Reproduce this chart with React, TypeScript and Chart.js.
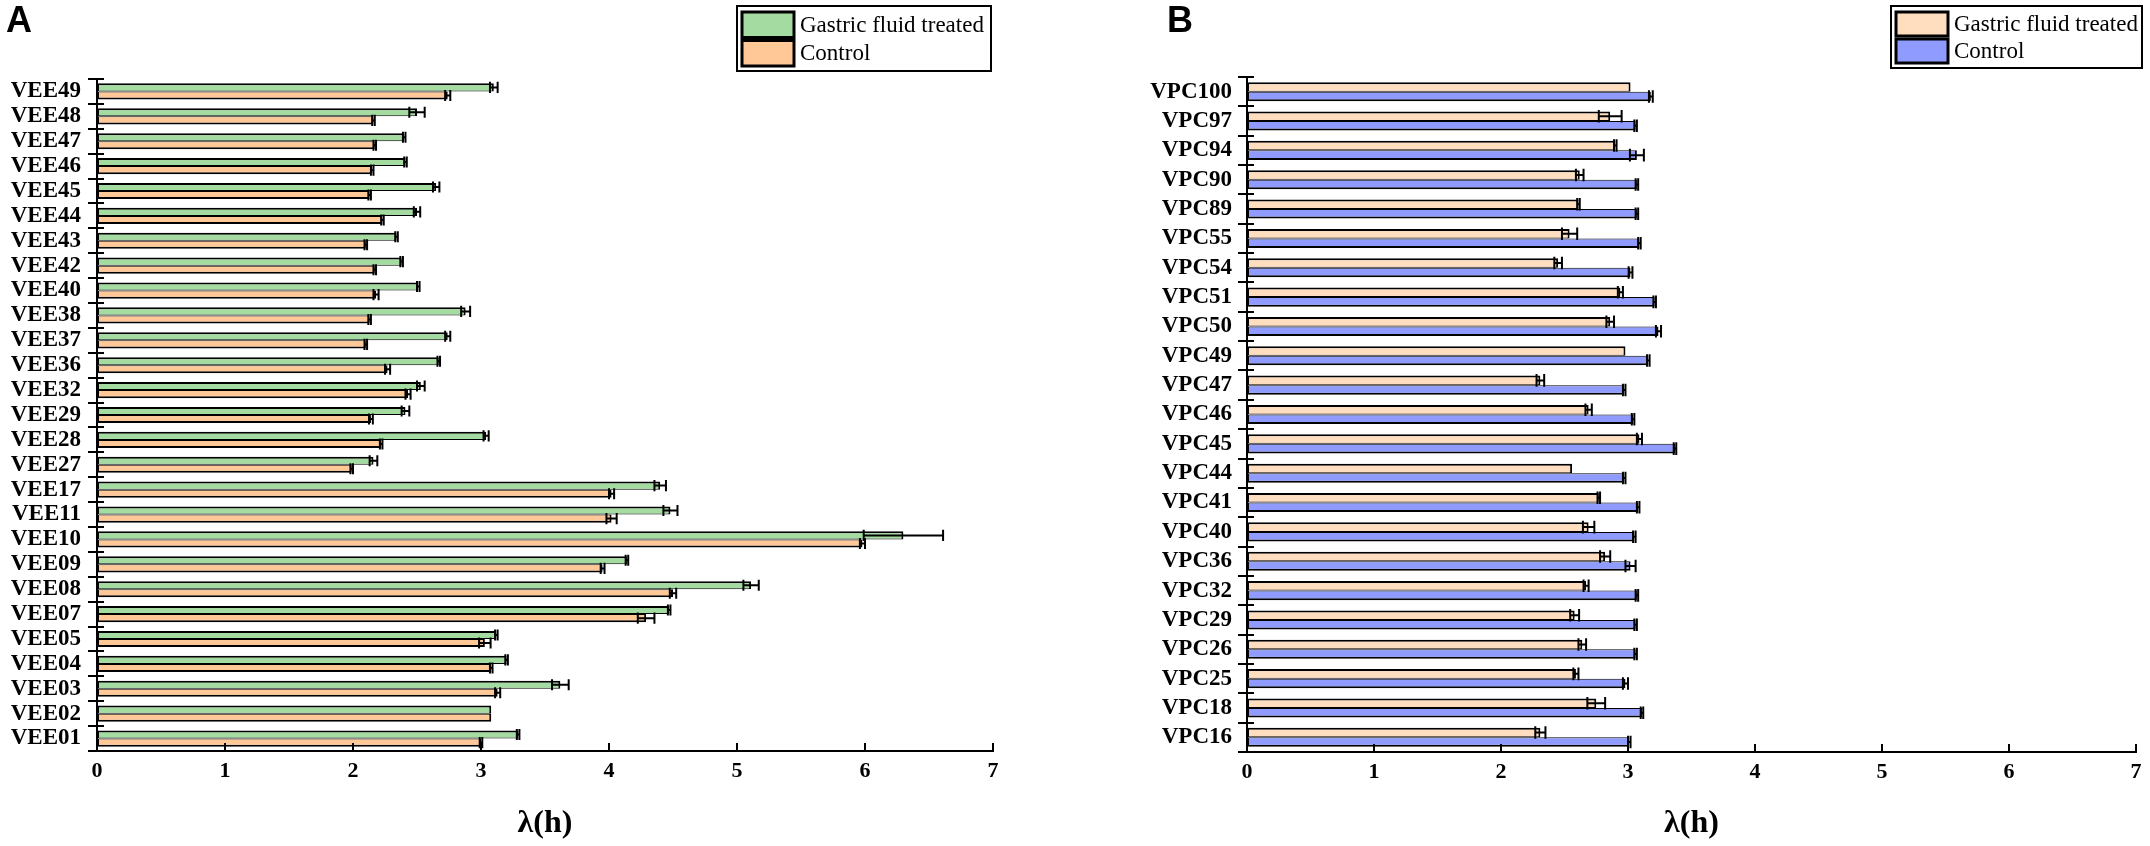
import React, { useEffect, useRef } from "react";
import { Chart, registerables } from "chart.js";

Chart.register(...registerables);

const SERIF = "'Liberation Serif', 'Times New Roman', serif";
const SANS = "'Liberation Sans', Arial, sans-serif";

// ---------- shared ----------
const seriesNames = ["Gastric fluid treated", "Control"];
const xTicks = [0, 1, 2, 3, 4, 5, 6, 7];
const axisTitle = "λ(h)";

// ---------- Panel A (top to bottom) ----------
const categoriesA = [
  "VEE49", "VEE48", "VEE47", "VEE46", "VEE45", "VEE44", "VEE43", "VEE42", "VEE40",
  "VEE38", "VEE37", "VEE36", "VEE32", "VEE29", "VEE28", "VEE27", "VEE17", "VEE11",
  "VEE10", "VEE09", "VEE08", "VEE07", "VEE05", "VEE04", "VEE03", "VEE02", "VEE01",
];
const gastricA = [
  3.10, 2.50, 2.40, 2.41, 2.65, 2.50, 2.34, 2.38, 2.51,
  2.88, 2.74, 2.67, 2.53, 2.41, 3.04, 2.16, 4.40, 4.48,
  6.30, 4.14, 5.11, 4.47, 3.12, 3.20, 3.62, 3.08, 3.29,
];
const gastricErrA = [
  0.03, 0.06, 0.01, 0.01, 0.025, 0.025, 0.01, 0.01, 0.01,
  0.035, 0.02, 0.01, 0.03, 0.03, 0.02, 0.03, 0.045, 0.055,
  0.31, 0.01, 0.06, 0.01, 0.01, 0.01, 0.065, 0, 0.01,
];
const controlA = [
  2.74, 2.16, 2.17, 2.15, 2.13, 2.23, 2.10, 2.17, 2.18,
  2.13, 2.10, 2.27, 2.43, 2.14, 2.22, 1.99, 4.02, 4.02,
  5.98, 3.95, 4.50, 4.29, 3.03, 3.08, 3.13, 3.08, 3.00,
];
const controlErrA = [
  0.02, 0.01, 0.01, 0.01, 0.01, 0.01, 0.01, 0.01, 0.02,
  0.01, 0.01, 0.02, 0.02, 0.015, 0.01, 0.01, 0.02, 0.04,
  0.02, 0.015, 0.025, 0.065, 0.045, 0.01, 0.02, 0, 0.01,
];

// ---------- Panel B (top to bottom) ----------
const categoriesB = [
  "VPC100", "VPC97", "VPC94", "VPC90", "VPC89", "VPC55", "VPC54", "VPC51",
  "VPC50", "VPC49", "VPC47", "VPC46", "VPC45", "VPC44", "VPC41", "VPC40",
  "VPC36", "VPC32", "VPC29", "VPC26", "VPC25", "VPC18", "VPC16",
];
const gastricB = [
  3.02, 2.86, 2.90, 2.62, 2.61, 2.54, 2.45, 2.94,
  2.86, 2.98, 2.31, 2.69, 3.09, 2.56, 2.77, 2.69,
  2.82, 2.67, 2.58, 2.64, 2.59, 2.75, 2.31,
];
const gastricErrB = [
  0, 0.09, 0.01, 0.03, 0.01, 0.06, 0.03, 0.02,
  0.03, 0, 0.03, 0.025, 0.02, 0, 0.01, 0.045,
  0.04, 0.02, 0.035, 0.03, 0.02, 0.07, 0.04,
];
const controlB = [
  3.18, 3.06, 3.07, 3.07, 3.07, 3.09, 3.02, 3.21,
  3.24, 3.16, 2.97, 3.04, 3.37, 2.97, 3.08, 3.05,
  3.02, 3.07, 3.06, 3.06, 2.98, 3.11, 3.01,
];
const controlErrB = [
  0.015, 0.01, 0.055, 0.01, 0.01, 0.01, 0.015, 0.01,
  0.02, 0.01, 0.01, 0.01, 0.01, 0.01, 0.01, 0.01,
  0.04, 0.01, 0.01, 0.01, 0.02, 0.01, 0.01,
];

const colorsA = ["#A4DBA0", "#FFC896"];
const colorsB = ["#FFDEC0", "#8F9BFF"];

// ---------- plugins ----------
const errorBarPlugin = {
  id: "errorBars",
  afterDatasetsDraw(chart: any) {
    const ctx = chart.ctx;
    const xs = chart.scales.x;
    ctx.save();
    ctx.strokeStyle = "#000";
    ctx.lineWidth = 2;
    chart.data.datasets.forEach((ds: any, di: number) => {
      const meta = chart.getDatasetMeta(di);
      meta.data.forEach((el: any, i: number) => {
        const e = ds.errors[i];
        if (!e) return;
        const v = ds.data[i];
        const x1 = xs.getPixelForValue(v - e);
        const x2 = xs.getPixelForValue(v + e);
        const y = el.y;
        const hh = el.height / 2 + 1.5;
        ctx.beginPath();
        ctx.moveTo(x1, y);
        ctx.lineTo(x2, y);
        ctx.moveTo(x1, y - hh);
        ctx.lineTo(x1, y + hh);
        ctx.moveTo(x2, y - hh);
        ctx.lineTo(x2, y + hh);
        ctx.stroke();
      });
    });
    ctx.restore();
  },
};

const axisMarksPlugin = {
  id: "axisMarks",
  afterDraw(chart: any) {
    const { ctx, chartArea } = chart;
    const xs = chart.scales.x;
    const ys = chart.scales.y;
    ctx.save();
    ctx.strokeStyle = "#000";
    ctx.lineWidth = 2;
    const n = chart.data.labels.length;
    const x0 = chartArea.left;
    for (let i = 0; i <= n; i++) {
      const y = Math.round(ys.getPixelForValue(i - 0.5));
      ctx.beginPath();
      ctx.moveTo(x0 - 9, y);
      ctx.lineTo(x0 + 7, y);
      ctx.stroke();
    }
    const yb = chartArea.bottom;
    xTicks.forEach((v) => {
      if (v === 0) return;
      const x = Math.round(xs.getPixelForValue(v));
      ctx.beginPath();
      ctx.moveTo(x, yb);
      ctx.lineTo(x, yb - 8);
      ctx.stroke();
    });
    ctx.restore();
  },
};

function makeLegendPlugin(box: { x: number; y: number; w: number; h: number }) {
  return {
    id: "boxLegend",
    afterDraw(chart: any) {
      const ctx = chart.ctx;
      ctx.save();
      ctx.fillStyle = "#fff";
      ctx.fillRect(box.x, box.y, box.w, box.h);
      ctx.strokeStyle = "#000";
      ctx.lineWidth = 2;
      ctx.strokeRect(box.x, box.y, box.w, box.h);
      const rowH = (box.h - 8) / 2;
      ctx.font = `23px ${SERIF}`;
      ctx.textBaseline = "middle";
      ctx.textAlign = "left";
      chart.data.datasets.forEach((ds: any, i: number) => {
        const sy = box.y + 5 + i * rowH + 1;
        const sh = rowH - 3;
        const sx = box.x + 5;
        const sw = 52;
        ctx.fillStyle = ds.backgroundColor;
        ctx.fillRect(sx, sy, sw, sh);
        ctx.lineWidth = 3;
        ctx.strokeStyle = "#000";
        ctx.strokeRect(sx, sy, sw, sh);
        ctx.fillStyle = "#000";
        ctx.fillText(ds.label, sx + sw + 6, sy + sh / 2 + 1);
      });
      ctx.restore();
    },
  };
}

function makeConfig(
  labels: string[],
  gastric: number[],
  gastricErr: number[],
  control: number[],
  controlErr: number[],
  colors: string[],
  area: { top: number; right: number; yWidth: number; xHeight: number; labelPad: number },
  legendBox: { x: number; y: number; w: number; h: number }
): any {
  return {
    type: "bar",
    data: {
      labels,
      datasets: [
        {
          label: seriesNames[0],
          data: gastric,
          errors: gastricErr,
          backgroundColor: colors[0],
          borderColor: "#000",
          borderWidth: { top: 2, bottom: 1, left: 2, right: 2 },
          borderSkipped: false,
          categoryPercentage: 0.65,
          barPercentage: 1,
        },
        {
          label: seriesNames[1],
          data: control,
          errors: controlErr,
          backgroundColor: colors[1],
          borderColor: "#000",
          borderWidth: { top: 1, bottom: 2, left: 2, right: 2 },
          borderSkipped: false,
          categoryPercentage: 0.65,
          barPercentage: 1,
        },
      ],
    },
    options: {
      indexAxis: "y",
      responsive: false,
      animation: false,
      devicePixelRatio: 1,
      layout: { padding: { top: area.top, right: area.right, left: 0, bottom: 0 } },
      plugins: {
        legend: { display: false },
        tooltip: { enabled: false },
      },
      scales: {
        x: {
          type: "linear",
          min: 0,
          max: 7,
          afterBuildTicks: (s: any) => {
            s.ticks = xTicks.map((v) => ({ value: v }));
          },
          ticks: {
            color: "#000",
            padding: 7,
            font: { family: SERIF, size: 22, weight: "bold" },
          },
          grid: { display: false, drawTicks: false },
          border: { display: true, color: "#000", width: 2 },
          title: {
            display: true,
            text: axisTitle,
            color: "#000",
            font: { family: SERIF, size: 32, weight: "bold" },
            padding: { top: 0, bottom: 3 },
          },
          afterFit: (s: any) => {
            s.height = area.xHeight;
          },
        },
        y: {
          type: "category",
          ticks: {
            color: "#000",
            autoSkip: false,
            padding: area.labelPad,
            font: { family: SERIF, size: 23, weight: "bold", lineHeight: 1 },
          },
          grid: { display: false, drawTicks: false },
          border: { display: true, color: "#000", width: 2 },
          afterFit: (s: any) => {
            s.width = area.yWidth;
          },
        },
      },
    },
    plugins: [errorBarPlugin, axisMarksPlugin, makeLegendPlugin(legendBox)],
  };
}

export default function App() {
  const refA = useRef<HTMLCanvasElement | null>(null);
  const refB = useRef<HTMLCanvasElement | null>(null);

  useEffect(() => {
    const chartA = new Chart(
      refA.current as HTMLCanvasElement,
      makeConfig(
        categoriesA, gastricA, gastricErrA, controlA, controlErrA, colorsA,
        { top: 79, right: 82, yWidth: 97, xHeight: 95, labelPad: 16 },
        { x: 737, y: 6, w: 254, h: 65 }
      )
    );
    const chartB = new Chart(
      refB.current as HTMLCanvasElement,
      makeConfig(
        categoriesB, gastricB, gastricErrB, controlB, controlErrB, colorsB,
        { top: 77, right: 14, yWidth: 172, xHeight: 94, labelPad: 15 },
        { x: 816, y: 6, w: 251, h: 62 }
      )
    );
    return () => {
      chartA.destroy();
      chartB.destroy();
    };
  }, []);

  const panelLabel: React.CSSProperties = {
    position: "absolute",
    top: 2,
    font: `bold 36px ${SANS}`,
    lineHeight: "36px",
    color: "#000",
  };

  return (
    <div style={{ position: "absolute", left: 0, top: 0, width: 2150, height: 846, background: "#fff" }}>
      <canvas ref={refA} width={1075} height={846} style={{ position: "absolute", left: 0, top: 0 }} />
      <canvas ref={refB} width={1075} height={846} style={{ position: "absolute", left: 1075, top: 0 }} />
      <div style={{ ...panelLabel, left: 6 }}>A</div>
      <div style={{ ...panelLabel, left: 1167 }}>B</div>
    </div>
  );
}
